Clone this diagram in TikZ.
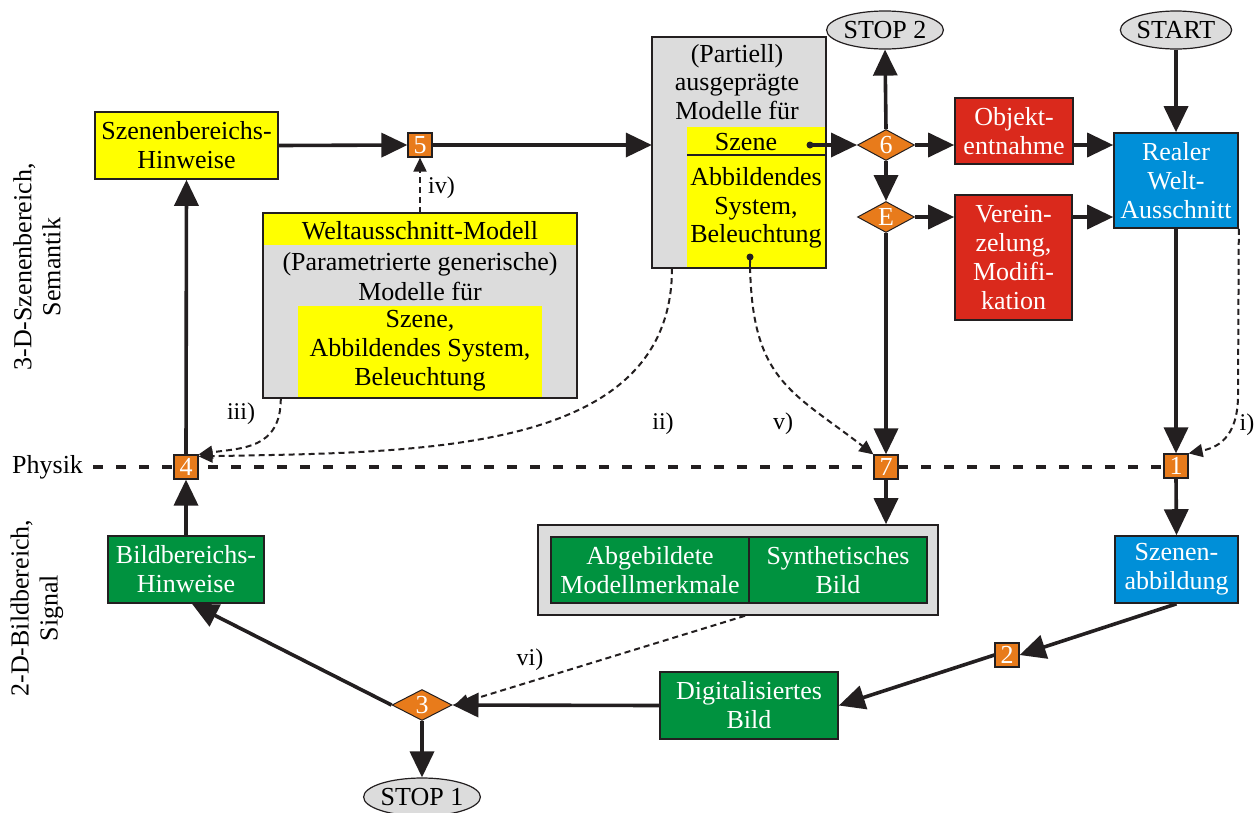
\documentclass[tikz,border=0pt]{standalone}
\usepackage{fontspec}
\setmainfont{Liberation Serif}
\usetikzlibrary{arrows.meta,shapes.geometric,calc}
\definecolor{cyel}{HTML}{FFFF00}
\definecolor{cgray}{HTML}{DCDCDC}
\definecolor{corange}{HTML}{E87B1B}
\definecolor{cred}{HTML}{DA291C}
\definecolor{cblue}{HTML}{008FD8}
\definecolor{cgreen}{HTML}{00923F}
\definecolor{cline}{HTML}{231F20}
\begin{document}
\begin{tikzpicture}[x=1pt,y=-1pt,
  font=\fontsize{26}{29}\selectfont,
  box/.style={draw=cline,line width=1.6pt,align=center,inner sep=0pt},
  yelbox/.style={box,fill=cyel,text=black},
  redbox/.style={box,fill=cred,text=white},
  bluebox/.style={box,fill=cblue,text=white},
  greenbox/.style={box,fill=cgreen,text=white},
  numbox/.style={draw=cline,line width=1.2pt,fill=corange,text=white,inner sep=0pt,minimum width=24pt,minimum height=24pt},
  dia/.style={diamond,draw=cline,line width=1pt,fill=corange,text=white,inner sep=0pt,minimum width=57pt,minimum height=31pt,aspect=1.9},
  stopell/.style={ellipse,draw=cline,line width=1.2pt,fill=cgray,inner sep=0pt,minimum width=95pt,minimum height=38pt},
  flow/.style={draw=cline,line width=3.6pt,-{Triangle[length=26pt,width=24pt]}},
  dflow/.style={draw=cline,line width=2pt,dash pattern=on 6pt off 4pt,-{Triangle[length=14pt,width=13pt]}},
  lbl/.style={inner sep=0pt,font=\fontsize{24}{27}\selectfont}]
\useasboundingbox (0,0) rectangle (1258,812);

% Physik line
\node[anchor=west,inner sep=0pt] (physik) at (12,467) {Physik};
\coordinate (physend) at (1164,467);
\draw[cline,line width=3.6pt,dash pattern=on 10pt off 13pt] (93,467) -- (physend);

% side labels
\node[rotate=90,align=center,inner sep=0pt] (sem) at (37,267) {3-D-Szenenbereich,\\Semantik};
\node[rotate=90,align=center,inner sep=0pt] (sig) at (37,608) {2-D-Bildbereich,\\Signal};

% boxes
\node[yelbox,minimum width=183pt,minimum height=67pt] (szb) at (186.5,145.5) {Szenenbereichs-\\Hinweise};
\node[numbox] (n5) at (420,145) {5};

% partiell gray box
\node[fill=cgray,minimum width=174pt,minimum height=231pt,inner sep=0pt] (part) at (739,152.5) {};
\fill[cyel] (687,127) rectangle (825.5,267.5);
\draw[cline,line width=1.2pt] (687,155) -- (826,155);
\draw[cline,line width=1.6pt] (part.north west) rectangle (part.south east);
\node[align=center,inner sep=0pt,font=\fontsize{26}{28.5}\selectfont] (parttxt) at (737,82) {(Partiell)\\ausgeprägte\\Modelle für};
\node[inner sep=0pt] (szene) at (746,142) {Szene};
\node[align=center,inner sep=0pt,font=\fontsize{26}{28.5}\selectfont] (abb) at (756,208) {Abbildendes\\System,\\Beleuchtung};
\coordinate (dot1) at (810,145);
\coordinate (dot2) at (750,257);
\fill[cline] (dot1) circle (3.5pt);
\fill[cline] (dot2) circle (3.5pt);
\draw[cline,line width=2pt] (dot2) -- (750,268);

% welt box
\node[fill=cgray,minimum width=314pt,minimum height=185pt,inner sep=0pt] (welt) at (420,305.5) {};
\fill[cyel] (263.5,213.5) rectangle (576.5,245);
\fill[cyel] (298,306) rectangle (542,397.5);
\draw[cline,line width=1.6pt] (welt.north west) rectangle (welt.south east);
\node[inner sep=0pt] (wt1) at (420,231) {Weltausschnitt-Modell};
\node[align=center,inner sep=0pt,font=\fontsize{26}{30}\selectfont] (wt2) at (420,277) {(Parametrierte generische)\\Modelle für};
\node[align=center,inner sep=0pt,font=\fontsize{26}{29}\selectfont] (wt3) at (420,351) {Szene,\\Abbildendes System,\\Beleuchtung};

\node[dia] (d6) at (886,145) {6};
\node[dia] (dE) at (886,217) {E};
\node[stopell] (stop2) at (885,30) {STOP 2};
\node[stopell,minimum width=93pt] (start) at (1176,30) {START};
\node[redbox,minimum width=118pt,minimum height=66pt] (obj) at (1014,131) {Objekt-\\entnahme};
\node[redbox,minimum width=117pt,minimum height=125pt] (ver) at (1013.5,257.5) {Verein-\\zelung,\\Modifi-\\kation};
\node[bluebox,minimum width=124pt,minimum height=95pt] (real) at (1176,180.5) {Realer\\Welt-\\Ausschnitt};

\node[numbox] (n1) at (1176,466) {1};
\node[numbox] (n4) at (186,467) {4};
\node[numbox] (n7) at (886,467) {7};
\node[bluebox,minimum width=123pt,minimum height=67pt] (szab) at (1176.5,569.5) {Szenen-\\abbildung};
\node[numbox] (n2) at (1007,655) {2};
\node[greenbox,minimum width=178pt,minimum height=67pt] (digi) at (749,705.5) {Digitalisiertes\\Bild};
\node[dia,minimum width=60pt] (d3) at (422,705) {3};
\node[stopell,minimum width=97pt] (stop1) at (422,797) {STOP 1};
\node[greenbox,minimum width=156pt,minimum height=67pt] (bild) at (186,569.5) {Bildbereichs-\\Hinweise};

% outer gray box with two green
\node[box,fill=cgray,minimum width=400pt,minimum height=90pt] (outer) at (738,570) {};
\node[greenbox,line width=1.2pt,minimum width=198pt,minimum height=66pt] (abgeb) at (650,570) {Abgebildete\\Modellmerkmale};
\node[greenbox,line width=1.2pt,minimum width=178pt,minimum height=66pt] (synth) at (838,570) {Synthetisches\\Bild};

% solid flows
\draw[flow] (szb.east) -- (n5.west);
\draw[flow] (n5.east) -- (part.west |- n5.east);
\draw[flow] (dot1) -- (d6.west);
\draw[flow] (d6.north) -- (stop2.south);
\draw[flow] (d6.east) -- (obj.west |- d6.east);
\draw[flow] (obj.east |- d6.east) -- (real.west |- d6.east);
\draw[flow] (d6.south) -- (dE.north);
\draw[flow] (dE.east) -- (ver.west |- dE.east);
\draw[flow] (ver.east |- dE.east) -- (real.west |- dE.east);
\draw[flow] (start.south) -- (real.north);
\draw[flow] (dE.south) -- (n7.north);
\draw[flow] (n7.south) -- (outer.north -| n7.south);
\draw[flow] (real.south) -- (n1.north);
\draw[flow] (n1.south) -- (szab.north);
\draw[flow] (szab.south) -- (n2.east);
\draw[flow] (n2.west) -- (digi.east);
\draw[flow] (digi.west) -- (d3.east);
\draw[flow] (d3.south) -- (stop1.north);
\draw[flow] (d3.west) -- ([xshift=6pt]bild.south);
\draw[flow] (bild.north) -- (n4.south);
\draw[flow] (n4.north) -- (szb.south);

% dashed flows
\draw[dflow] (welt.north) -- (n5.south);
\node[lbl,anchor=west] (liv) at (428,188) {iv)};
\draw[dflow] ([xshift=18pt]welt.south west) .. controls (281,450) and (240,448) .. (n4.north east);
\node[lbl] (liii) at (241,414) {iii)};
\draw[dflow] (part.south west -| 672,0) .. controls (672,455) and (420,452) .. ([yshift=-2pt]n4.north east);
\node[lbl] (lii) at (663,424) {ii)};
\draw[dflow] (dot2) .. controls (750,380) and (790,390) .. (n7.north west);
\node[lbl] (lv) at (783,424) {v)};
\draw[dflow] (real.south east) -- (1238,395) .. controls (1238,440) and (1215,448) .. (n1.north east);
\node[lbl] (li) at (1247,425) {i)};
\draw[dflow] (outer.south -| 745,0) -- ([xshift=2pt]d3.east);
\node[lbl] (lvi) at (530,660) {vi)};
\end{tikzpicture}
\end{document}
